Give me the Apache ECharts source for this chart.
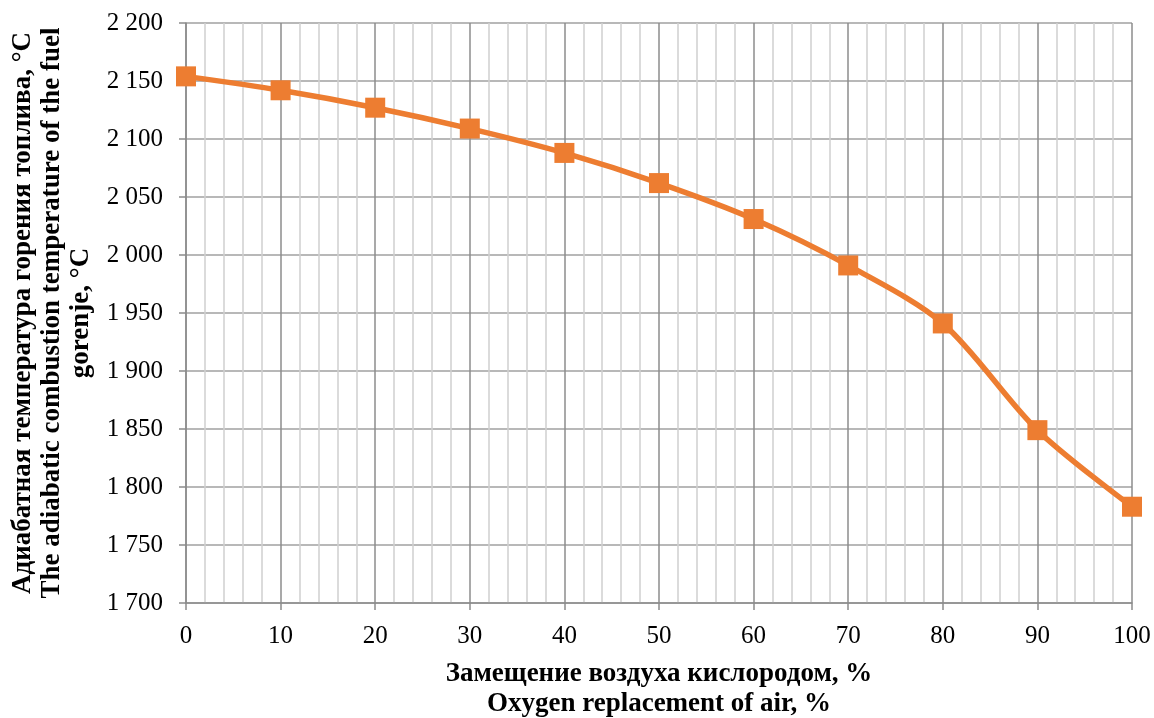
<!DOCTYPE html>
<html>
    <head>
        <meta charset="utf-8">
        <script src="https://cdn.jsdelivr.net/npm/echarts@6/dist/echarts.min.js"></script>
    </head>
    <body style="margin:0">
        <div id="main" style="width: 1154px; height: 718px"></div>
        <script type="text/javascript">
            // oxygen replacement of air, %
            const replacement = [0, 10, 20, 30, 40, 50, 60, 70, 80, 90, 100];
            // adiabatic combustion temperature, °C
            const temperature = [2154, 2142, 2127, 2109, 2088, 2062, 2031, 1991, 1941, 1849, 1783];

            const xTitle = 'Замещение воздуха кислородом, %\nOxygen replacement of air, %';
            const yTitle = 'Адиабатная температура горения топлива, °C\nThe adiabatic combustion temperature of the fuel\ngorenje, °C';

            const points = [];
            for (let i = 0; i < replacement.length; i++) {
                points.push([replacement[i], temperature[i]]);
            }

            var myChart = echarts.init(document.getElementById('main'));
            const font = '"Liberation Serif", "Times New Roman", serif';

            var option = {
                animation: false,
                textStyle: { fontFamily: font },
                grid: { left: 186, right: 22, top: 23, bottom: 115, containLabel: false, outerBoundsMode: 'none' },
                xAxis: {
                    type: 'value',
                    min: 0,
                    max: 100,
                    interval: 10,
                    name: xTitle,
                    nameLocation: 'middle',
                    nameGap: 56,
                    nameTextStyle: { fontFamily: font, fontWeight: 'bold', fontSize: 27, color: '#000', lineHeight: 30 },
                    axisLine: { lineStyle: { color: '#8c8c8c', width: 1.5 } },
                    axisTick: { show: true, length: 7, lineStyle: { color: '#8c8c8c', width: 1.5 } },
                    axisLabel: { fontFamily: font, fontSize: 25, color: '#000', margin: 21 },
                    splitLine: { show: true, lineStyle: { color: '#8c8c8c', width: 1.5 } },
                    minorTick: { show: false, splitNumber: 5 },
                    minorSplitLine: { show: true, lineStyle: { color: '#d0d0d0', width: 1.5 } }
                },
                yAxis: {
                    type: 'value',
                    min: 1700,
                    max: 2200,
                    interval: 50,
                    name: yTitle,
                    nameLocation: 'middle',
                    nameGap: 89,
                    nameTextStyle: { fontFamily: font, fontWeight: 'bold', fontSize: 27, color: '#000', lineHeight: 29 },
                    axisLine: { show: true, lineStyle: { color: '#8c8c8c', width: 1.5 } },
                    axisTick: { show: true, length: 7, lineStyle: { color: '#8c8c8c', width: 1.5 } },
                    axisLabel: {
                        fontFamily: font, fontSize: 25, color: '#000', margin: 23,
                        formatter: function (v) {
                            return String(v).replace(/\B(?=(\d{3})+(?!\d))/g, ' ');
                        }
                    },
                    splitLine: { show: true, lineStyle: { color: '#a0a0a0', width: 1.5 } }
                },
                series: [{
                    type: 'line',
                    data: points,
                    smooth: 0.3,
                    symbol: 'rect',
                    symbolSize: 20,
                    lineStyle: { color: '#ED7D31', width: 5.5 },
                    itemStyle: { color: '#ED7D31' }
                }]
            };

            option && myChart.setOption(option);
        </script>
    </body>
</html>
